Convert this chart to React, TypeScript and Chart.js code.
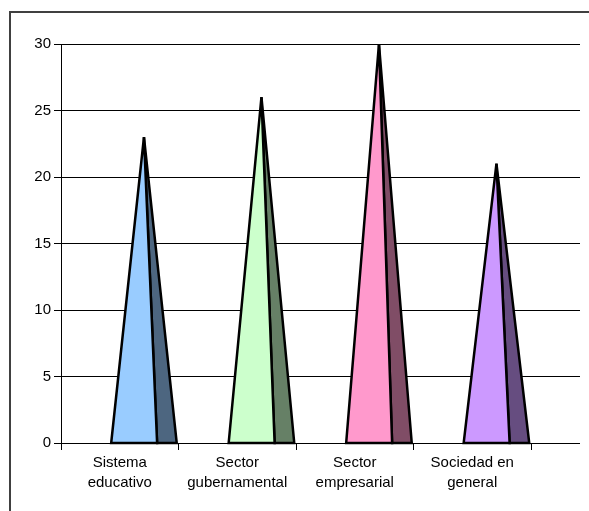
import React, { useEffect, useRef } from "react";
import { Chart, registerables } from "chart.js";

Chart.register(...registerables);

const categories: string[][] = [
  ["Sistema", "educativo"],
  ["Sector", "gubernamental"],
  ["Sector", "empresarial"],
  ["Sociedad en", "general"],
];
const values: number[] = [23, 26, 30, 21];
const frontColors: string[] = ["#99CCFF", "#CCFFCC", "#FF99CC", "#CC99FF"];
const sideColors: string[] = ["#4D6680", "#668066", "#804D66", "#664D80"];
const yMin = 0;
const yMax = 30;
const yStep = 5;

const FONT = "'Liberation Sans', Arial, sans-serif";

const framePlugin = {
  id: "frame",
  beforeDraw(chart: any) {
    const ctx = chart.ctx;
    ctx.save();
    ctx.strokeStyle = "#404040";
    ctx.lineWidth = 2;
    ctx.beginPath();
    ctx.moveTo(10, chart.height + 5);
    ctx.lineTo(10, 12);
    ctx.lineTo(chart.width + 5, 12);
    ctx.stroke();
    ctx.restore();
  },
};

const gridExtendPlugin = {
  id: "gridExtend",
  beforeDatasetsDraw(chart: any) {
    const ctx = chart.ctx;
    const y = chart.scales.y;
    const area = chart.chartArea;
    ctx.save();
    ctx.strokeStyle = "#000";
    ctx.lineWidth = 1;
    y.ticks.forEach((t: any) => {
      const p = y.getPixelForValue(t.value);
      const py = Math.round(p - 0.5) + 0.5;
      ctx.beginPath();
      ctx.moveTo(area.right - 1, py);
      ctx.lineTo(area.right + 49, py);
      ctx.stroke();
    });
    ctx.restore();
  },
};

const pyramidPlugin = {
  id: "pyramids",
  afterDatasetsDraw(chart: any) {
    const ctx = chart.ctx;
    const xs = chart.scales.x;
    const ys = chart.scales.y;
    const n = categories.length;
    const w = xs.width / n;
    const base = ys.getPixelForValue(0);
    ctx.save();
    ctx.strokeStyle = "#000";
    ctx.lineWidth = 2.5;
    ctx.lineJoin = "miter";
    values.forEach((v, i) => {
      const c = xs.getPixelForValue(i);
      const left = c - 0.073 * w;
      const mid = c + 0.318 * w;
      const right = c + 0.485 * w;
      const ax = c + 0.206 * w;
      const ay = ys.getPixelForValue(v);
      // side face
      ctx.beginPath();
      ctx.moveTo(mid, base);
      ctx.lineTo(right, base);
      ctx.lineTo(ax, ay);
      ctx.closePath();
      ctx.fillStyle = sideColors[i];
      ctx.fill();
      ctx.stroke();
      // front face
      ctx.beginPath();
      ctx.moveTo(left, base);
      ctx.lineTo(mid, base);
      ctx.lineTo(ax, ay);
      ctx.closePath();
      ctx.fillStyle = frontColors[i];
      ctx.fill();
      ctx.stroke();
    });
    ctx.restore();
  },
};

export default function App() {
  const ref = useRef<HTMLCanvasElement | null>(null);
  useEffect(() => {
    if (!ref.current) return;
    const chart = new Chart(ref.current, {
      type: "bar",
      data: {
        labels: categories,
        datasets: [
          {
            data: values,
            backgroundColor: "rgba(0,0,0,0)",
            borderWidth: 0,
          },
        ],
      },
      options: {
        responsive: false,
        maintainAspectRatio: false,
        animation: false,
        devicePixelRatio: 1,
        layout: { padding: { left: 0, top: 44, right: 58, bottom: 0 } },
        plugins: {
          legend: { display: false },
          tooltip: { enabled: false },
        },
        scales: {
          x: {
            offset: true,
            grid: {
              offset: true,
              drawOnChartArea: false,
              drawTicks: true,
              tickLength: 7,
              color: "#000",
            },
            border: { display: true, color: "#000", width: 1 },
            ticks: {
              color: "#000",
              padding: 3,
              maxRotation: 0,
              autoSkip: false,
              font: { family: FONT, size: 15, lineHeight: 1.333 },
            },
            afterFit(scale: any) {
              scale.height = 68;
            },
          },
          y: {
            min: yMin,
            max: yMax,
            ticks: {
              stepSize: yStep,
              color: "#000",
              padding: 3,
              font: { family: FONT, size: 15 },
            },
            grid: {
              color: "#000",
              lineWidth: 1,
              tickLength: 7,
              drawTicks: true,
            },
            border: { display: true, color: "#000", width: 1 },
            afterFit(scale: any) {
              scale.width = 61;
            },
          },
        },
      },
      plugins: [framePlugin, gridExtendPlugin, pyramidPlugin],
    } as any);
    return () => chart.destroy();
  }, []);
  return (
    <div style={{ position: "fixed", left: 0, top: 0, width: 589, height: 511, background: "#fff" }}>
      <canvas ref={ref} width={589} height={511} style={{ display: "block" }} />
    </div>
  );
}
